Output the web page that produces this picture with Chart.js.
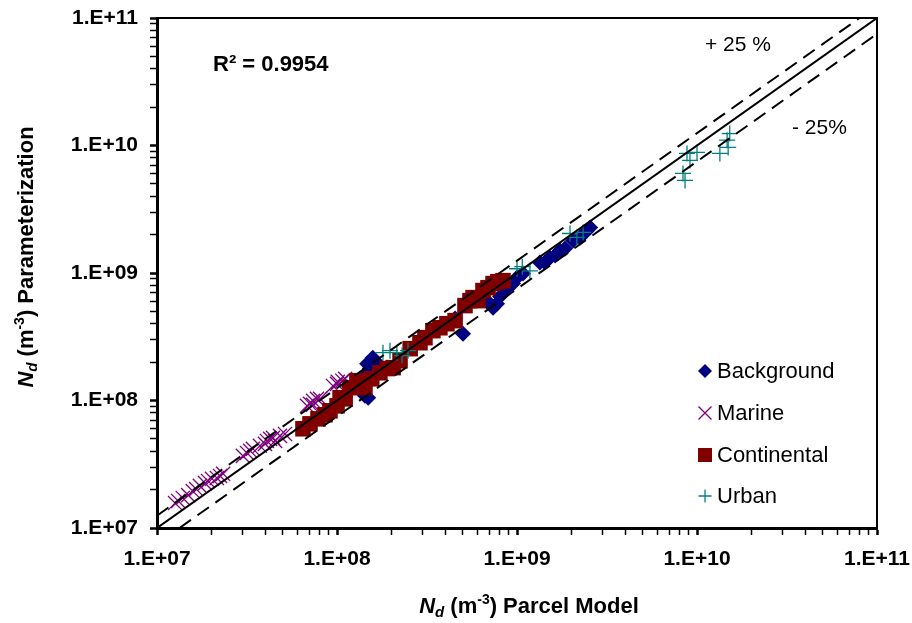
<!DOCTYPE html>
<html lang="en">
<head>
  <meta charset="UTF-8" />
  <title>Nd Parameterization vs Parcel Model</title>
  <script src="https://cdn.jsdelivr.net/npm/chart.js"></script>
  <style>
    body { margin: 0; background: #fff; }
  </style>
</head>
<body>
<canvas id="ndChart" width="912" height="623"></canvas>
<script>
  // Background (diamonds)
  const bgX = [1.47e8, 1.52e8, 1.58e8, 1.63e8, 1.47e8, 1.43e8, 1.49e8, 1.69e8, 4.53e8, 5.01e8, 6.22e8, 6.81e8, 7.74e8, 7.36e8, 8.05e8, 8.58e8, 9.5e8, 1.0e9, 1.08e9, 1.34e9, 1.43e9, 1.52e9, 1.63e9, 1.73e9, 1.85e9, 2.05e9, 2.24e9, 2.45e9, 2.55e9];
  const bgY = [1.94e8, 1.78e8, 2.16e8, 2.05e8, 1.62e8, 1.09e8, 1.05e8, 1.87e8, 4.39e8, 3.34e8, 6.3e8, 6.07e8, 5.75e8, 5.35e8, 6.53e8, 7.28e8, 8.26e8, 9.2e8, 9.9e8, 1.21e9, 1.21e9, 1.32e9, 1.37e9, 1.5e9, 1.56e9, 1.8e9, 1.9e9, 2.15e9, 2.27e9];

  // Marine (x crosses)
  const marX = [1.26e7, 1.31e7, 1.39e7, 1.49e7, 1.58e7, 1.65e7, 1.73e7, 1.85e7, 1.92e7, 2.02e7, 2.15e7, 2.24e7, 2.33e7, 3.0e7, 3.16e7, 3.29e7, 3.41e7, 3.73e7, 3.98e7, 4.08e7, 4.25e7, 4.41e7, 4.53e7, 4.82e7, 5.14e7, 6.81e7, 7.08e7, 7.36e7, 7.36e7, 7.74e7, 8.05e7, 9.5e7, 1.0e8, 1.01e8, 1.07e8, 1.11e8];
  const marY = [1.57e7, 1.63e7, 1.72e7, 1.81e7, 1.95e7, 2.02e7, 2.14e7, 2.25e7, 2.34e7, 2.43e7, 2.47e7, 2.56e7, 2.66e7, 3.68e7, 3.88e7, 4.03e7, 4.18e7, 4.41e7, 4.57e7, 4.82e7, 5.0e7, 5.09e7, 4.82e7, 5.28e7, 5.47e7, 9.08e7, 9.42e7, 9.25e7, 9.95e7, 1.03e8, 1.03e8, 1.30e8, 1.35e8, 1.40e8, 1.43e8, 1.48e8];

  // Continental (squares)
  const conX = [6.47e7, 7.08e7, 7.84e7, 8.58e7, 9.14e7, 1.0e8, 1.04e8, 1.11e8, 1.18e8, 1.29e8, 1.43e8, 1.56e8, 1.73e8, 1.9e8, 2.05e8, 2.24e8, 2.55e8, 2.89e8, 3.08e8, 3.41e8, 3.73e8, 4.08e8, 4.53e8, 5.14e8, 5.48e8, 5.7e8, 6.07e8, 6.47e8, 6.9e8, 7.36e8, 7.83e8, 8.36e8];
  const conY = [6.0e7, 6.56e7, 7.18e7, 7.73e7, 8.3e7, 9.08e7, 1.05e8, 1.03e8, 1.26e8, 1.43e8, 1.26e8, 1.48e8, 1.65e8, 1.78e8, 1.81e8, 2.05e8, 2.55e8, 2.84e8, 3.11e8, 3.53e8, 3.72e8, 4.0e8, 4.23e8, 5.55e8, 6.07e8, 6.41e8, 6.07e8, 7.28e8, 7.67e8, 8.26e8, 8.55e8, 8.71e8];

  // Urban (+ crosses)
  const urbX = [1.8e8, 1.97e8, 2.15e8, 2.3e8, 2.48e8, 1.0e9, 1.07e9, 1.18e9, 1.97e9, 2.15e9, 2.33e9, 8.8e9, 9.14e9, 8.36e9, 8.58e9, 1.0e10, 1.34e10, 1.47e10, 1.52e10, 1.49e10];
  const urbY = [2.37e8, 2.46e8, 2.37e8, 2.25e8, 2.46e8, 1.08e9, 1.12e9, 1.04e9, 2.04e9, 1.9e9, 2.08e9, 8.67e9, 7.64e9, 6.04e9, 5.32e9, 8.83e9, 8.67e9, 1.1e10, 1.24e10, 9.66e9];

  // reference lines: 1:1 and +/- 25 %
  const oneX = [1e7, 1e11];
  const oneY = [1e7, 1e11];
  const plusX = [1e7, 8e10];
  const plusY = [1.25e7, 1e11];
  const minusX = [1.3333e7, 1e11];
  const minusY = [1e7, 7.5e10];

  // axis ticks
  const decades = [1e7, 1e8, 1e9, 1e10, 1e11];
  const minorSteps = [2, 3, 4, 5, 6, 7, 8, 9];

  const FONT = "'Liberation Sans', Arial, sans-serif";

  function pts(xs, ys) {
    return xs.map((x, i) => ({ x: x, y: ys[i] }));
  }

  function tickLabel(v) {
    if (!decades.includes(v)) return '';
    const e = Math.round(Math.log10(v));
    return '1.E+' + (e < 10 ? '0' + e : e);
  }

  function buildTicks(scale) {
    const list = [];
    decades.forEach((d, i) => {
      list.push({ value: d, major: true });
      if (i < decades.length - 1) minorSteps.forEach(m => list.push({ value: d * m, major: false }));
    });
    scale.ticks = list;
  }

  const series = [
    { label: 'Background', style: 'rectRot', color: '#000080', r: 8 },
    { label: 'Marine', style: 'crossRot', color: '#800080', r: 10 },
    { label: 'Continental', style: 'rect', color: '#800000', r: 11 },
    { label: 'Urban', style: 'cross', color: '#008080', r: 8 }
  ];

  function marker(ctx, style, color, x, y, r) {
    ctx.save();
    ctx.fillStyle = color;
    ctx.strokeStyle = color;
    ctx.lineWidth = 1.3;
    ctx.beginPath();
    if (style === 'rectRot') {
      ctx.moveTo(x, y - r); ctx.lineTo(x + r, y); ctx.lineTo(x, y + r); ctx.lineTo(x - r, y);
      ctx.closePath(); ctx.fill();
    } else if (style === 'rect') {
      ctx.rect(x - r, y - r, 2 * r, 2 * r); ctx.fill();
    } else if (style === 'crossRot') {
      ctx.moveTo(x - r, y - r); ctx.lineTo(x + r, y + r);
      ctx.moveTo(x + r, y - r); ctx.lineTo(x - r, y + r); ctx.stroke();
    } else {
      ctx.moveTo(x - r, y); ctx.lineTo(x + r, y);
      ctx.moveTo(x, y - r); ctx.lineTo(x, y + r); ctx.stroke();
    }
    ctx.restore();
  }

  function drawRich(ctx, parts, cx, cy, angle) {
    ctx.save();
    ctx.translate(cx, cy);
    ctx.rotate(angle);
    let total = 0;
    parts.forEach(p => { ctx.font = p.font; p.w = ctx.measureText(p.text).width; total += p.w; });
    let x = -total / 2;
    ctx.textBaseline = 'middle';
    ctx.textAlign = 'left';
    ctx.fillStyle = '#000';
    parts.forEach(p => { ctx.font = p.font; ctx.fillText(p.text, x, p.dy || 0); x += p.w; });
    ctx.restore();
  }

  function titleParts(rest) {
    return [
      { text: 'N', font: 'italic bold 22px ' + FONT },
      { text: 'd', font: 'italic bold 15px ' + FONT, dy: 6 },
      { text: ' (m', font: 'bold 22px ' + FONT },
      { text: '-3', font: 'bold 14px ' + FONT, dy: -7 },
      { text: ') ' + rest, font: 'bold 22px ' + FONT }
    ];
  }

  const decor = {
    id: 'decor',
    afterDraw(chart) {
      const ctx = chart.ctx;
      const ca = chart.chartArea;
      ctx.save();
      // top and right frame
      ctx.strokeStyle = '#000';
      ctx.lineWidth = 2;
      ctx.beginPath();
      ctx.moveTo(ca.left, ca.top);
      ctx.lineTo(ca.right, ca.top);
      ctx.lineTo(ca.right, ca.bottom);
      ctx.stroke();

      // annotations
      ctx.fillStyle = '#000';
      ctx.textBaseline = 'middle';
      ctx.textAlign = 'left';
      ctx.font = 'bold 22px ' + FONT;
      ctx.fillText('R\u00B2 = 0.9954', 213, 65);
      ctx.font = '21px ' + FONT;
      ctx.fillText('+ 25 %', 705, 45);
      ctx.fillText('- 25%', 792, 128);

      // legend
      const legendY = [371, 413, 455, 496];
      const legendR = [7, 6.5, 7, 6.5];
      ctx.font = '22px ' + FONT;
      series.forEach((s, i) => {
        marker(ctx, s.style, s.color, 705, legendY[i], legendR[i]);
        ctx.fillStyle = '#000';
        ctx.fillText(s.label, 717, legendY[i] + 1);
      });

      // axis titles
      drawRich(ctx, titleParts('Parcel Model'), 529, 607, 0);
      drawRich(ctx, titleParts('Parameterization'), 27, 257, -Math.PI / 2);
      ctx.restore();
    }
  };

  function scatterSet(s, xs, ys, order) {
    const filled = s.style === 'rect' || s.style === 'rectRot';
    return {
      label: s.label,
      data: pts(xs, ys),
      pointStyle: s.style,
      pointRadius: s.r,
      pointHoverRadius: s.r,
      backgroundColor: s.color,
      borderColor: s.color,
      borderWidth: filled ? 0 : 1.3,
      order: order
    };
  }

  function lineSet(label, xs, ys, dash) {
    return { label: label, data: pts(xs, ys), showLine: true, pointRadius: 0, borderColor: '#000',
      borderWidth: 2, borderDash: dash, order: 0 };
  }

  const axisCommon = {
    type: 'logarithmic',
    min: 1e7,
    max: 1e11,
    border: { color: '#000', width: 3 },
    grid: {
      drawOnChartArea: false,
      drawTicks: true,
      tickLength: 7,
      tickColor: '#000',
      tickWidth: c => (c.tick && decades.includes(c.tick.value)) ? 2.5 : 1.5
    },
    afterBuildTicks: buildTicks,
    ticks: {
      autoSkip: false,
      maxRotation: 0,
      padding: 12,
      color: '#000',
      font: { family: FONT, size: 21, weight: 'bold' },
      callback: v => tickLabel(v)
    }
  };

  new Chart(document.getElementById('ndChart'), {
    type: 'scatter',
    data: {
      datasets: [
        lineSet('1:1', oneX, oneY, []),
        lineSet('+25%', plusX, plusY, [14, 8]),
        lineSet('-25%', minusX, minusY, [14, 8]),
        scatterSet(series[3], urbX, urbY, 2),
        scatterSet(series[2], conX, conY, 3),
        scatterSet(series[1], marX, marY, 4),
        scatterSet(series[0], bgX, bgY, 5)
      ]
    },
    options: {
      responsive: false,
      animation: false,
      layout: { padding: { left: 0, top: 18, right: 35, bottom: 0 } },
      plugins: { legend: { display: false }, tooltip: { enabled: false } },
      scales: {
        x: Object.assign({}, axisCommon, {
          position: 'bottom',
          afterFit: s => { s.height = 95; s.paddingLeft = 0; s.paddingRight = 0; }
        }),
        y: Object.assign({}, axisCommon, {
          position: 'left',
          afterFit: s => { s.width = 157; s.paddingTop = 0; s.paddingBottom = 0; }
        })
      }
    },
    plugins: [decor]
  });
</script>
</body>
</html>
